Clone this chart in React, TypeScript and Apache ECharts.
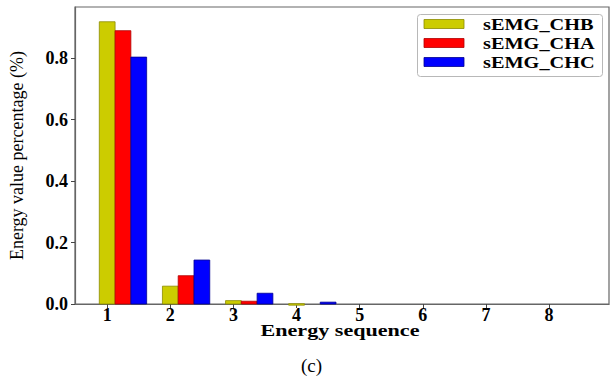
import React, { useEffect, useRef } from "react";
import * as echarts from "echarts";

const positions = [1, 2, 3, 4, 5, 6, 7, 8];
const seriesNames = ["sEMG_CHB", "sEMG_CHA", "sEMG_CHC"];
const chbValues = [0.918, 0.058, 0.011, 0.001, 0, 0, 0, 0];
const chaValues = [0.889, 0.092, 0.009, 0, 0, 0, 0, 0];
const chcValues = [0.803, 0.143, 0.035, 0.006, 0, 0, 0, 0];
const xTicks = [1, 2, 3, 4, 5, 6, 7, 8];
const yTicks = [0, 0.2, 0.4, 0.6, 0.8];
const xTitle = "Energy sequence";
const yTitle = "Energy value percentage (%)";

const colors = ["#cccc00", "#ff0000", "#0000ff"];
const edges = ["#8c8c00", "#b00000", "#000090"];
const offsets = [0, 0.25, 0.5];
const barW = 0.25;
const serif = "Liberation Serif";

export default function App() {
  const ref = useRef<HTMLDivElement>(null);
  useEffect(() => {
    if (!ref.current) return;
    const chart = echarts.init(ref.current, null, { renderer: "svg" });
    const allValues = [chbValues, chaValues, chcValues];
    const series = allValues.map((vals, si) => ({
      name: seriesNames[si],
      type: "custom",
      itemStyle: { color: colors[si] },
      data: positions.map((p, i) => [p + offsets[si], vals[i]]),
      renderItem: (params: any, api: any) => {
        const x = api.value(0);
        const y = api.value(1);
        if (!(y > 0)) return null;
        const p1 = api.coord([x - barW / 2, y]);
        const p2 = api.coord([x + barW / 2, 0]);
        return {
          type: "rect",
          shape: { x: p1[0], y: p1[1], width: p2[0] - p1[0], height: Math.max(p2[1] - p1[1], 1.5) },
          style: { fill: colors[si], stroke: edges[si], lineWidth: 0.8 },
        };
      },
    }));
    const legendRows = [24, 43, 62];
    const legendChildren: any[] = [
      {
        type: "rect",
        shape: { x: 417.5, y: 14.5, width: 185, height: 62, r: 3 },
        style: { fill: "#fff", stroke: "#b8b8b8", lineWidth: 1 },
      },
    ];
    seriesNames.forEach((n, i) => {
      legendChildren.push({
        type: "rect",
        shape: { x: 424, y: legendRows[i] - 4.5, width: 40, height: 9 },
        style: { fill: colors[i], stroke: edges[i], lineWidth: 0.8 },
      });
      legendChildren.push({
        type: "text",
        x: 483,
        y: legendRows[i] + 1,
        scaleX: 1.27,
        style: {
          text: n,
          x: 0,
          y: 0,
          verticalAlign: "middle",
          align: "left",
          font: `bold 16px ${serif}`,
          fill: "#000",
        },
      });
    });
    chart.setOption({
      animation: false,
      backgroundColor: "#ffffff",
      grid: {
        left: 67,
        top: 7,
        right: 1,
        bottom: 80,
        show: true,
        borderColor: "#666",
        borderWidth: 1.2,
      },
      xAxis: {
        type: "value",
        min: 0.49,
        max: 8.95,
        axisLine: { show: true, lineStyle: { color: "#666", width: 1.2 } },
        axisTick: { show: true, customValues: xTicks, length: 4, lineStyle: { color: "#444" } },
        axisLabel: {
          customValues: xTicks,
          fontFamily: serif,
          fontWeight: "bold",
          fontSize: 18,
          color: "#000",
          margin: 2,
        },
        splitLine: { show: false },
      },
      yAxis: {
        type: "value",
        min: 0,
        max: 0.966,
        name: yTitle,
        nameLocation: "middle",
        nameGap: 49,
        nameTextStyle: { fontFamily: serif, fontSize: 18, color: "#000" },
        axisLine: { show: true, lineStyle: { color: "#666", width: 1.2 } },
        axisTick: { show: true, customValues: yTicks, length: 4, lineStyle: { color: "#444" } },
        axisLabel: {
          customValues: yTicks,
          formatter: (v: number) => v.toFixed(1),
          fontFamily: serif,
          fontWeight: "bold",
          fontSize: 18,
          color: "#000",
          margin: 7,
        },
        splitLine: { show: false },
      },
      graphic: [
        { type: "group", children: legendChildren },
        {
          type: "text",
          x: 340,
          y: 330,
          scaleX: 1.3,
          style: {
            text: xTitle,
            x: 0,
            y: 0,
            align: "center",
            verticalAlign: "middle",
            font: `bold 17px ${serif}`,
            fill: "#000",
          },
        },
        {
          type: "text",
          left: 301,
          top: 356,
          style: { text: "(c)", font: `19px ${serif}`, fill: "#000" },
        },
      ],
      series,
    });
    return () => chart.dispose();
  }, []);
  return <div ref={ref} style={{ position: "absolute", left: 0, top: 0, width: 610, height: 384 }} />;
}
